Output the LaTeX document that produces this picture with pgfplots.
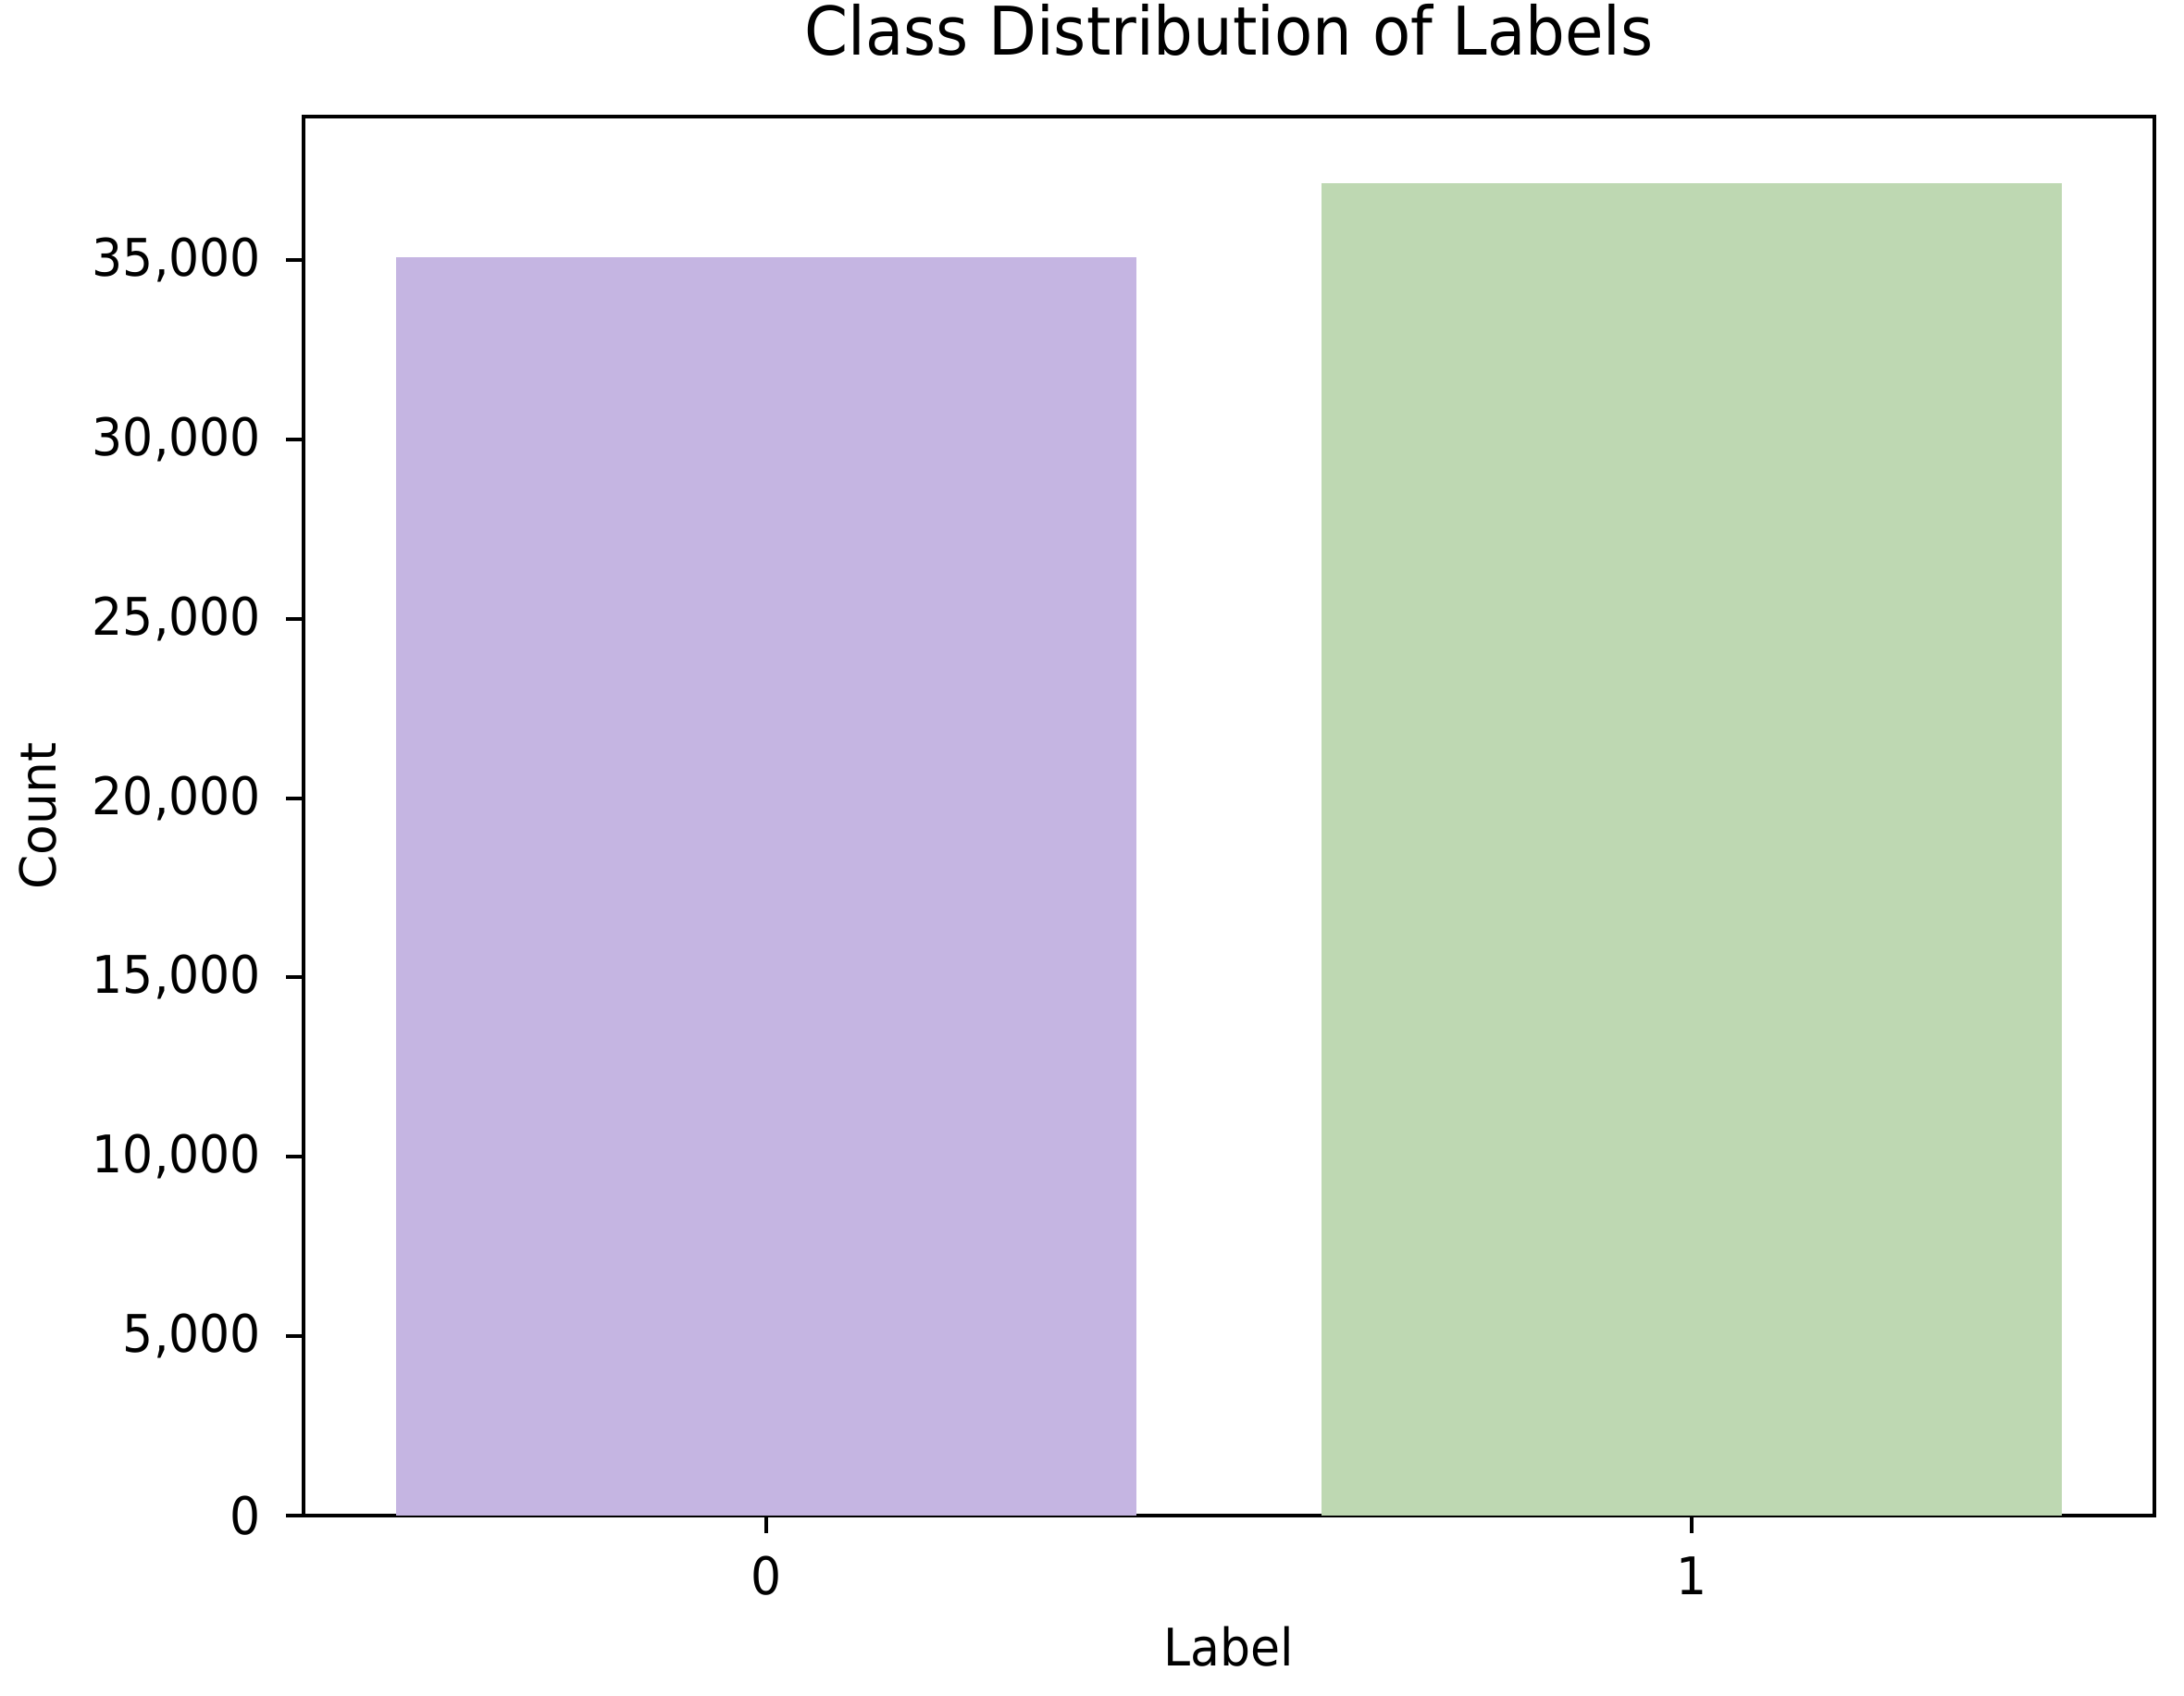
\documentclass[border=0pt]{standalone}
\usepackage{fontspec}
\setmainfont{DejaVu Sans}
\newfontfamily\condfont[FakeStretch=0.93]{DejaVu Sans}
\usepackage{pgfplots}
\pgfplotsset{compat=1.18}
\definecolor{barpurple}{HTML}{C5B5E2}
\definecolor{bargreen}{HTML}{BED8B2}
\begin{document}
\begin{tikzpicture}
\begin{axis}[
  scale only axis,
  width=400pt, height=302.4pt,
  xmin=-0.5, xmax=1.5, ymin=0, ymax=38997,
  xtick={0,1}, xticklabels={0,1},
  ytick={0,5000,10000,15000,20000,25000,30000,35000},
  yticklabels={0,{5,000},{10,000},{15,000},{20,000},{25,000},{30,000},{35,000}},
  xtick pos=left, ytick pos=left,
  tick align=outside,
  major tick length=3.8pt,
  axis line style={line width=0.8pt},
  every tick/.style={line width=0.8pt, black},
  scaled y ticks=false,
  every tick label/.append style={font=\condfont\fontsize{11.2}{13}\selectfont, inner sep=0pt, outer sep=0pt},
  every y tick label/.append style={anchor=east, xshift=-5.4pt},
  every x tick label/.append style={anchor=base, yshift=-13.4pt},
  title={Class Distribution of Labels},
  title style={font=\condfont\fontsize{14.5}{17}\selectfont, at={(rel axis cs:0.5,1)}, anchor=base, yshift=7.2pt, inner sep=0pt},
  xlabel={Label},
  xlabel style={font=\condfont\fontsize{11.2}{13}\selectfont, at={(rel axis cs:0.5,0)}, anchor=base, yshift=-32.6pt, inner sep=0pt},
  ylabel={Count},
  ylabel style={font=\fontsize{10.7}{13}\selectfont, at={(rel axis cs:0,0.5)}, anchor=base, yshift=53.4pt, inner sep=0pt},
]
\addplot[ybar, bar width=0.8, bar shift=0pt, fill=barpurple, draw=none] coordinates {(0,35070)};
\addplot[ybar, bar width=0.8, bar shift=0pt, fill=bargreen, draw=none] coordinates {(1,37140)};
\coordinate (sw) at (rel axis cs:0,0);
\end{axis}
\pgfresetboundingbox
\path (sw) ++(-65.6pt,-39pt) rectangle ++(472pt,366.6pt);
\end{tikzpicture}
\end{document}
